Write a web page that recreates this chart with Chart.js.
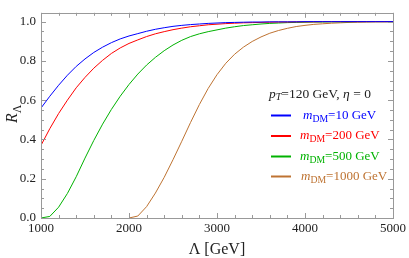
<!DOCTYPE html>
<html>
<head>
<meta charset="utf-8">
<script src="https://cdn.jsdelivr.net/npm/chart.js@4"></script>
<style>
  body { margin: 0; background: #fff; }
  #wrap { width: 409px; height: 258px; }
</style>
</head>
<body>
<div id="wrap"><canvas id="c"></canvas></div>
<script>
// Lambda values in GeV
var lambda = [1000, 1100, 1200, 1300, 1400, 1500, 1600, 1700, 1800, 1900,
              2000, 2100, 2200, 2300, 2400, 2500, 2600, 2700, 2800, 2900,
              3000, 3100, 3200, 3300, 3400, 3500, 3600, 3700, 3800, 3900,
              4000, 4100, 4200, 4300, 4400, 4500, 4600, 4700, 4800, 4900, 5000];

var rM10 = [0.560, 0.620, 0.676, 0.727, 0.772, 0.810, 0.843, 0.870, 0.893, 0.912,
            0.927, 0.939, 0.951, 0.961, 0.969, 0.976, 0.981, 0.985, 0.988, 0.991,
            0.993, 0.995, 0.996, 0.997, 0.998, 0.998, 0.999, 0.999, 0.999, 0.999,
            1.000, 1.000, 1.000, 1.000, 1.000, 1.000, 1.000, 1.000, 1.000, 1.000, 1.000];

var rM200 = [0.370, 0.455, 0.532, 0.600, 0.663, 0.716, 0.763, 0.803, 0.838, 0.866,
             0.889, 0.907, 0.924, 0.938, 0.949, 0.959, 0.967, 0.974, 0.979, 0.984,
             0.987, 0.990, 0.992, 0.994, 0.995, 0.996, 0.997, 0.998, 0.998, 0.999,
             0.999, 0.999, 1.000, 1.000, 1.000, 1.000, 1.000, 1.000, 1.000, 1.000, 1.000];

var rM500 = [0.000, 0.008, 0.055, 0.125, 0.210, 0.305, 0.395, 0.478, 0.553, 0.620,
             0.680, 0.733, 0.779, 0.818, 0.852, 0.881, 0.905, 0.924, 0.938, 0.949,
             0.958, 0.967, 0.974, 0.980, 0.984, 0.988, 0.991, 0.993, 0.995, 0.996,
             0.997, 0.998, 0.998, 0.999, 0.999, 0.999, 1.000, 1.000, 1.000, 1.000, 1.000];

var rM1000 = [null, null, null, null, null, null, null, null, null, null,
              0.000, 0.010, 0.058, 0.127, 0.207, 0.297, 0.391, 0.487, 0.578, 0.660,
              0.730, 0.788, 0.834, 0.870, 0.899, 0.922, 0.941, 0.955, 0.966, 0.975,
              0.981, 0.986, 0.989, 0.992, 0.994, 0.996, 0.997, 0.998, 0.999, 0.999, 1.000];

var xTicks = [1000, 2000, 3000, 4000, 5000];
var yTicks = [0, 0.2, 0.4, 0.6, 0.8, 1.0];

var series = [
  {mass: "10", values: rM10, color: "rgb(0,0,255)"},
  {mass: "200", values: rM200, color: "rgb(255,0,0)"},
  {mass: "500", values: rM500, color: "rgb(0,178,0)"},
  {mass: "1000", values: rM1000, color: "rgb(190,115,50)"}
];

var SERIF = '"Liberation Serif", "DejaVu Serif", serif';

function pts(vals) {
  return lambda.map(function (x, i) { return {x: x, y: vals[i]}; });
}

// draws text pieces, some italic, some subscript
function rich(ctx, parts, x, y, size, color) {
  ctx.save();
  ctx.fillStyle = color;
  ctx.textBaseline = "middle";
  ctx.textAlign = "left";
  parts.forEach(function (p) {
    var s = p.sub ? size * 0.75 : size;
    ctx.font = (p.i ? "italic " : "") + s + "px " + SERIF;
    ctx.fillText(p.t, x, y + (p.sub ? size * 0.28 : 0));
    x += ctx.measureText(p.t).width;
  });
  ctx.restore();
  return x;
}

var frame = {
  id: "frame",
  afterDraw: function (chart) {
    var ctx = chart.ctx, a = chart.chartArea;
    var xs = chart.scales.x, ys = chart.scales.y;
    ctx.save();
    ctx.strokeStyle = "#999";
    ctx.lineWidth = 1;
    ctx.strokeRect(Math.round(a.left) + 0.5, Math.round(a.top) + 0.5,
                   Math.round(a.right - a.left), Math.round(a.bottom - a.top));
    ctx.beginPath();
    for (var v = 1000; v <= 5000; v += 200) {
      var px = Math.round(xs.getPixelForValue(v)) + 0.5;
      var len = (v % 1000 === 0) ? 5 : 3;
      ctx.moveTo(px, a.bottom); ctx.lineTo(px, a.bottom - len);
      ctx.moveTo(px, a.top); ctx.lineTo(px, a.top + len);
    }
    for (var k = 0; k <= 20; k++) {
      var py = Math.round(ys.getPixelForValue(k * 0.05)) + 0.5;
      var l2 = (k % 4 === 0) ? 5 : 3;
      ctx.moveTo(a.left, py); ctx.lineTo(a.left + l2, py);
      ctx.moveTo(a.right, py); ctx.lineTo(a.right - l2, py);
    }
    ctx.stroke();

    // axis titles
    ctx.fillStyle = "#222";
    ctx.font = "16px " + SERIF;
    ctx.textAlign = "center";
    ctx.textBaseline = "middle";
    ctx.fillText("\u039B [GeV]", (a.left + a.right) / 2, 250);

    ctx.save();
    ctx.translate(13, 113);
    ctx.rotate(-Math.PI / 2);
    rich(ctx, [{t: "R", i: true}, {t: "\u039B", sub: true}], -10, 0, 16, "#222");
    ctx.restore();

    // legend
    rich(ctx, [{t: "p", i: true}, {t: "T", i: true, sub: true}, {t: "=120 GeV, "},
               {t: "\u03B7", i: true}, {t: " = 0"}], 269, 94, 13.5, "#222");
    var ly = [115.5, 136, 156.5, 176.5];
    var lx = [303, 300, 300, 301];
    series.forEach(function (s, i) {
      ctx.strokeStyle = s.color;
      ctx.lineWidth = 2;
      ctx.beginPath();
      ctx.moveTo(271, ly[i]); ctx.lineTo(291, ly[i]);
      ctx.stroke();
      rich(ctx, [{t: "m", i: true}, {t: "DM", sub: true}, {t: "=" + s.mass + " GeV"}],
           lx[i], ly[i], 13, s.color);
    });
    ctx.restore();
  }
};

new Chart(document.getElementById("c"), {
  type: "line",
  data: {
    datasets: series.map(function (s) {
      return {
        data: pts(s.values),
        borderColor: s.color,
        borderWidth: 1,
        pointRadius: 0,
        tension: 0,
        fill: false
      };
    })
  },
  options: {
    responsive: true,
    maintainAspectRatio: false,
    animation: false,
    layout: {padding: {top: 1, right: 12, left: 0, bottom: 0}},
    plugins: {legend: {display: false}, tooltip: {enabled: false}},
    scales: {
      x: {
        type: "linear",
        min: 1000,
        max: 5000,
        afterBuildTicks: function (s) { s.ticks = xTicks.map(function (v) { return {value: v}; }); },
        afterFit: function (s) { s.height = 40; },
        grid: {display: false, drawTicks: false},
        border: {display: false},
        ticks: {
          padding: 3,
          maxRotation: 0,
          color: "#222",
          font: {family: SERIF, size: 13},
          callback: function (v) { return String(v); }
        }
      },
      y: {
        min: 0,
        max: 1.045,
        afterBuildTicks: function (s) { s.ticks = yTicks.map(function (v) { return {value: v}; }); },
        afterFit: function (s) { s.width = 41; },
        grid: {display: false, drawTicks: false},
        border: {display: false},
        ticks: {
          padding: 5,
          color: "#222",
          font: {family: SERIF, size: 13},
          callback: function (v) { return v.toFixed(1); }
        }
      }
    }
  },
  plugins: [frame]
});
</script>
</body>
</html>
